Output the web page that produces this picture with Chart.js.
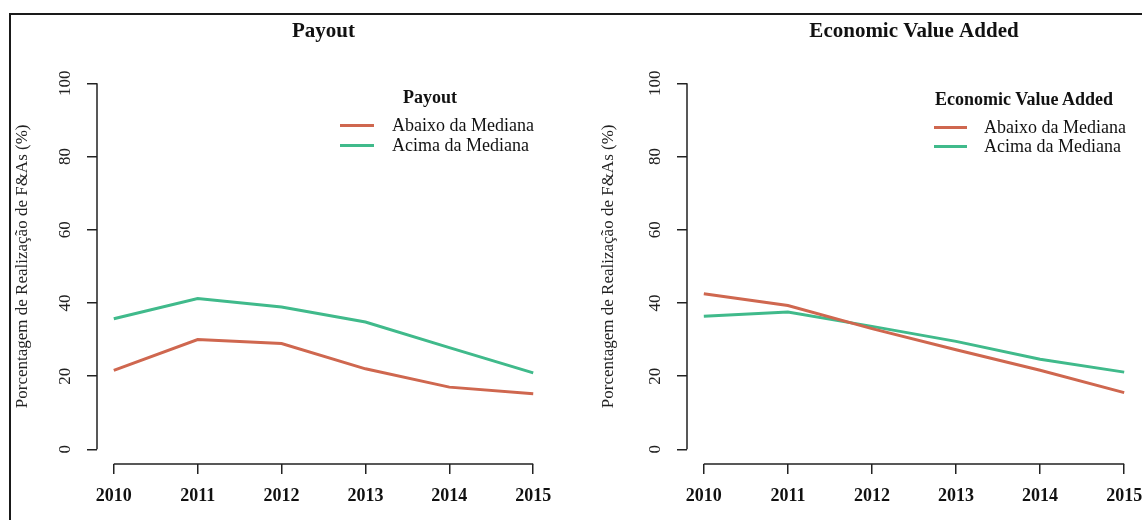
<!DOCTYPE html>
<html>
<head>
<meta charset="utf-8">
<script src="https://cdn.jsdelivr.net/npm/chart.js@4.4.1/dist/chart.umd.min.js"></script>
<style>
html,body{margin:0;padding:0;background:#fff;overflow:hidden;width:1142px;height:520px;}
#frame{position:absolute;left:9px;top:13px;width:1300px;height:700px;border:2px solid #1a1a1a;box-sizing:border-box;}
#c1{position:absolute;left:0;top:0;}
#c2{position:absolute;left:571px;top:0;}
.lg{position:absolute;font-family:"Liberation Serif","Times New Roman",serif;color:#111;white-space:nowrap;line-height:1;}
.lgline{position:absolute;height:3px;}
</style>
</head>
<body>
<div id="frame"></div>
<canvas id="c1" width="571" height="520"></canvas>
<canvas id="c2" width="571" height="520"></canvas>
<script>
// ---- data ----
const years = [2010, 2011, 2012, 2013, 2014, 2015];
const yTicks = [0, 20, 40, 60, 80, 100];
const seriesLabels = ['Abaixo da Mediana', 'Acima da Mediana'];
const payoutAbaixo = [21.6, 30.0, 28.9, 22.0, 17.0, 15.2];
const payoutAcima  = [35.7, 41.2, 38.9, 34.8, 27.8, 20.9];
const evaAbaixo    = [42.5, 39.3, 33.0, 27.2, 21.6, 15.5];
const evaAcima     = [36.4, 37.5, 33.6, 29.5, 24.6, 21.1];
const titles = ['Payout', 'Economic Value Added'];
const yAxisTitle = 'Porcentagem de Realização de F&As (%)';

// ---- styling ----
const serif = '"Liberation Serif", "Times New Roman", serif';
const colRed = '#CF674F';
const colGreen = '#40BA8B';
const axisColor = '#222';

const rAxes = {
  id: 'rAxes',
  afterDraw(chart) {
    const {ctx, chartArea, scales: {x, y}} = chart;
    ctx.save();
    ctx.strokeStyle = axisColor;
    ctx.lineWidth = 1.5;
    ctx.beginPath();
    const xl = Math.round(chartArea.left), yb = Math.round(chartArea.bottom);
    ctx.moveTo(xl, y.getPixelForValue(yTicks[0]));
    ctx.lineTo(xl, y.getPixelForValue(yTicks[yTicks.length - 1]));
    ctx.moveTo(x.getPixelForValue(years[0]), yb);
    ctx.lineTo(x.getPixelForValue(years[years.length - 1]), yb);
    ctx.stroke();
    ctx.restore();
  }
};

function makeChart(id, title, abaixo, acima, o) {
  const toPts = arr => years.map((yr, i) => ({x: yr, y: arr[i]}));
  return new Chart(document.getElementById(id), {
    type: 'line',
    data: {
      datasets: [
        {label: seriesLabels[0], data: toPts(abaixo), borderColor: colRed, backgroundColor: colRed, borderWidth: 3, pointRadius: 0, tension: 0},
        {label: seriesLabels[1], data: toPts(acima), borderColor: colGreen, backgroundColor: colGreen, borderWidth: 3, pointRadius: 0, tension: 0}
      ]
    },
    options: {
      responsive: false,
      animation: false,
      events: [],
      layout: {padding: {left: 0, right: o.padRight, top: 0, bottom: 0}},
      plugins: {
        legend: {display: false},
        tooltip: {enabled: false},
        title: {
          display: true, text: title, fullSize: false, color: '#111',
          font: {family: serif, size: 21, weight: 'bold', lineHeight: 1.2},
          padding: {top: 19.4, bottom: 24.1}
        }
      },
      scales: {
        x: {
          type: 'linear', min: 2009.8, max: 2015.2,
          afterBuildTicks: s => { s.ticks = years.map(v => ({value: v})); },
          afterFit: s => { s.height = 56; s.paddingLeft = 0; s.paddingRight = 0; },
          border: {display: false},
          grid: {drawOnChartArea: false, drawTicks: true, tickLength: 10, color: axisColor, lineWidth: 1.5},
          ticks: {autoSkip: false, maxRotation: 0, padding: 12, color: '#111',
                  font: {family: serif, size: 18, weight: 'bold'}, callback: v => String(v)}
        },
        y: {
          type: 'linear', min: -4, max: 104,
          afterBuildTicks: s => { s.ticks = yTicks.map(v => ({value: v})); },
          afterFit: s => { s.width = o.yWidth; s.paddingTop = 0; s.paddingBottom = 0; },
          border: {display: false},
          grid: {drawOnChartArea: false, drawTicks: true, tickLength: 10, color: axisColor, lineWidth: 1.5},
          ticks: {minRotation: 90, maxRotation: 90, crossAlign: 'center', padding: 8.5, color: '#222',
                  font: {family: serif, size: 17}, callback: v => String(v)},
          title: {display: true, text: yAxisTitle, color: '#222',
                  font: {family: serif, size: 17}, padding: {top: o.yTitlePad, bottom: 0}}
        }
      }
    },
    plugins: [rAxes]
  });
}

function addLegend(chart, title, L) {
  const ds = chart.data.datasets;
  const t = document.createElement('div');
  t.className = 'lg';
  t.textContent = title;
  t.style.fontWeight = 'bold';
  t.style.fontSize = L.titleSize + 'px';
  t.style.left = L.titleX + 'px';
  t.style.top = L.titleY + 'px';
  t.style.transform = 'translate(-50%,-50%)';
  document.body.appendChild(t);
  ds.forEach((d, i) => {
    const ln = document.createElement('div');
    ln.className = 'lgline';
    ln.style.background = d.borderColor;
    ln.style.left = L.lineX0 + 'px';
    ln.style.width = (L.lineX1 - L.lineX0) + 'px';
    ln.style.top = (L.rows[i] - 1.5) + 'px';
    document.body.appendChild(ln);
    const tx = document.createElement('div');
    tx.className = 'lg';
    tx.textContent = d.label;
    tx.style.fontSize = L.size + 'px';
    tx.style.left = L.textX + 'px';
    tx.style.top = L.rows[i] + 'px';
    tx.style.transform = 'translateY(-50%)';
    document.body.appendChild(tx);
  });
}

const ch1 = makeChart('c1', titles[0], payoutAbaixo, payoutAcima,
  {padRight: 21, yWidth: 97, yTitlePad: 12.5});
const ch2 = makeChart('c2', titles[1], evaAbaixo, evaAcima,
  {padRight: 1, yWidth: 116, yTitlePad: 27.8});

addLegend(ch1, titles[0], {titleSize: 18, size: 18, titleX: 430, titleY: 97, lineX0: 340, lineX1: 374, textX: 392, rows: [125, 145]});
addLegend(ch2, titles[1], {titleSize: 18, size: 18, titleX: 1024, titleY: 99, lineX0: 934, lineX1: 967, textX: 984, rows: [127, 146]});
</script>
</body>
</html>
